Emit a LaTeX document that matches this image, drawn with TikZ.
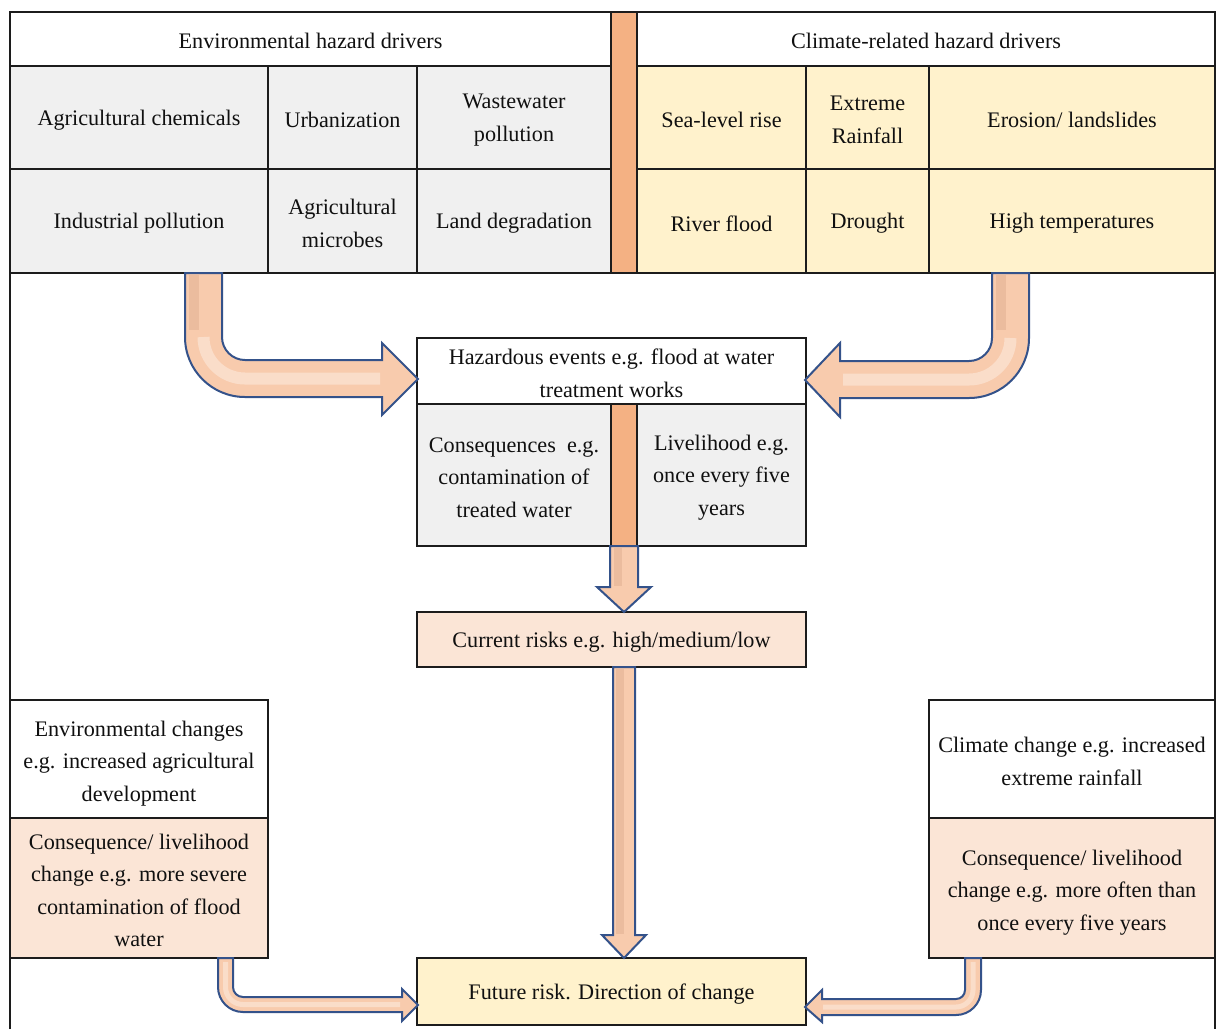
\documentclass[tikz,border=0pt]{standalone}
\usepackage{fontspec}
\setmainfont{Liberation Serif}
\usetikzlibrary{fit}

\definecolor{framec}{HTML}{1C1C1C}
\definecolor{textc}{HTML}{101010}
\definecolor{cellgray}{HTML}{F0F0F0}
\definecolor{cellyellow}{HTML}{FFF2CC}
\definecolor{barorange}{HTML}{F4B183}
\definecolor{cellpink}{HTML}{FBE5D6}
\definecolor{arrowfill}{HTML}{F8CBAD}
\definecolor{arrowdark}{HTML}{E2B193}
\definecolor{arrowedge}{HTML}{34528A}

\begin{document}
\begin{tikzpicture}[x=0.5pt, y=-0.5pt,
  box/.style={draw=framec, line width=0.7pt, inner sep=0pt},
  txt/.style={align=center, inner sep=0pt, yshift=-1.2pt, text=textc,
              font=\fontsize{11.1pt}{16.25pt}\selectfont},
  graycell/.style={box, fill=cellgray},
  yellowcell/.style={box, fill=cellyellow},
  pinkcell/.style={box, fill=cellpink},
  whitecell/.style={box, fill=white},
  orangebar/.style={box, fill=barorange},
  blockarrow/.style={fill=arrowfill, draw=arrowedge, line width=1pt, line join=miter},
  shine/.style={draw=white, opacity=0.35},
  shade/.style={draw=arrowdark, opacity=0.55}]

\useasboundingbox (0,0) rectangle (1219,1029);

% ---------- driver table ----------
\node[whitecell, fit={(10,12) (611,66)}, label={[txt]center:Environmental hazard drivers}] (envhead) {};
\node[whitecell, fit={(637,12) (1215,66)}, label={[txt]center:Climate-related hazard drivers}] (climhead) {};
\node[orangebar, fit={(611,12) (637,273)}] (topbar) {};

\node[graycell, fit={(10,66) (268,169)}, label={[txt]center:Agricultural chemicals}] (agchem) {};
\node[graycell, fit={(268,66) (417,169)}, label={[txt]center:Urbanization}] (urban) {};
\node[graycell, fit={(417,66) (611,169)}, label={[txt]center:{Wastewater\\pollution}}] (waste) {};
\node[graycell, fit={(10,169) (268,273)}, label={[txt]center:Industrial pollution}] (indpol) {};
\node[graycell, fit={(268,169) (417,273)}, label={[txt]center:{Agricultural\\microbes}}] (agmic) {};
\node[graycell, fit={(417,169) (611,273)}, label={[txt]center:Land degradation}] (landdeg) {};

\node[yellowcell, fit={(637,66) (806,169)}, label={[txt]center:Sea-level rise}] (sealevel) {};
\node[yellowcell, fit={(806,66) (929,169)}, label={[txt]center:{Extreme\\Rainfall}}] (extrain) {};
\node[yellowcell, fit={(929,66) (1215,169)}, label={[txt]center:Erosion/ landslides}] (erosion) {};
\node[yellowcell, fit={(637,169) (806,273)}, label={[txt]center:River flood}] (river) {};
\node[yellowcell, fit={(806,169) (929,273)}, label={[txt]center:Drought}] (drought) {};
\node[yellowcell, fit={(929,169) (1215,273)}, label={[txt]center:High temperatures}] (hightemp) {};

% ---------- central chain ----------
\node[graycell, fit={(417,404) (611,546)},
  label={[txt]center:{Consequences\ \ e.g.\\contamination of\\treated water}}] (conseq) {};
\node[orangebar, fit={(611,404) (637,546)}] (midbar) {};
\node[graycell, fit={(637,404) (806,546)},
  label={[txt]center:{Livelihood e.g.\\once every five\\years}}] (liveli) {};
\node[whitecell, fit={(417,338) (806,404)},
  label={[txt]center:{Hazardous events e.g. flood at water\\treatment works}}] (hazard) {};

\node[pinkcell, fit={(417,612) (806,667)},
  label={[txt]center:Current risks e.g. high/medium/low}] (current) {};
\node[yellowcell, fit={(417,958) (806,1025)},
  label={[txt]center:Future risk. Direction of change}] (future) {};

% ---------- side boxes ----------
\node[pinkcell, fit={(10,818) (268,958)},
  label={[txt]center:{Consequence/ livelihood\\change e.g. more severe\\contamination of flood\\water}}] (envcons) {};
\node[whitecell, fit={(10,700) (268,818)},
  label={[txt, yshift=-1pt]center:{Environmental changes\\e.g. increased agricultural\\development}}] (envchg) {};
\node[pinkcell, fit={(929,818) (1215,958)},
  label={[txt, yshift=-1pt]center:{Consequence/ livelihood\\change e.g. more often than\\once every five years}}] (climcons) {};
\node[whitecell, fit={(929,700) (1215,818)},
  label={[txt]center:{Climate change e.g. increased\\extreme rainfall}}] (climchg) {};

% ---------- outer frame ----------
\draw[framec, line width=1.4pt] (10,1029) -- (10,12) -- (1215,12) -- (1215,1029);

% ---------- block arrows ----------
% environmental drivers -> hazardous events
\draw[blockarrow] (222,273) -- (185,273) -- (185,337)
  arc[start angle=180, end angle=90, radius=60] -- (382,397) -- (382,415)
  -- (418,379) -- (382,343) -- (382,360) -- (245,360)
  arc[start angle=90, end angle=180, radius=23] -- cycle;
\draw[shade, line width=5pt] (194,275) -- (194,330);
\draw[shine, line width=6pt] (203.5,337)
  arc[start angle=180, end angle=90, radius=41.5] -- (380,378.5);

% climate drivers -> hazardous events
\draw[blockarrow] (992,273) -- (1029,273) -- (1029,338)
  arc[start angle=0, end angle=90, radius=60] -- (840,398) -- (840,417)
  -- (805,380) -- (840,343) -- (840,361) -- (969,361)
  arc[start angle=90, end angle=0, radius=23] -- cycle;
\draw[shade, line width=5pt] (1001,275) -- (1001,330);
\draw[shine, line width=6pt] (1010.5,338)
  arc[start angle=0, end angle=90, radius=41.5] -- (843,379.5);

% hazard block -> current risks
\draw[blockarrow] (610,546) -- (638,546) -- (638,587) -- (651,587)
  -- (624,612) -- (597,587) -- (610,587) -- cycle;
\draw[shade, line width=4pt] (618,548) -- (618,586);

% current risks -> future risk
\draw[blockarrow] (613,667) -- (635,667) -- (635,935) -- (646,935)
  -- (624,958) -- (602,935) -- (613,935) -- cycle;
\draw[shade, line width=4pt] (620,669) -- (620,934);

% environmental consequence -> future risk
\draw[blockarrow] (233,958) -- (218,958) -- (218,987)
  arc[start angle=180, end angle=90, radius=25] -- (402,1012) -- (402,1021)
  -- (418,1005) -- (402,989) -- (402,997) -- (243,997)
  arc[start angle=90, end angle=180, radius=10] -- cycle;
\draw[shine, line width=2.5pt] (225.5,962) -- (225.5,987)
  arc[start angle=180, end angle=90, radius=17.5] -- (400,1004.5);

% climate consequence -> future risk
\draw[blockarrow] (965,958) -- (981,958) -- (981,990)
  arc[start angle=0, end angle=90, radius=25] -- (822,1015) -- (822,1022)
  -- (805,1007) -- (822,990) -- (822,999) -- (956,999)
  arc[start angle=90, end angle=0, radius=9] -- cycle;
\draw[shine, line width=2.5pt] (973,962) -- (973,990)
  arc[start angle=0, end angle=90, radius=17] -- (823,1007);

\end{tikzpicture}
\end{document}
